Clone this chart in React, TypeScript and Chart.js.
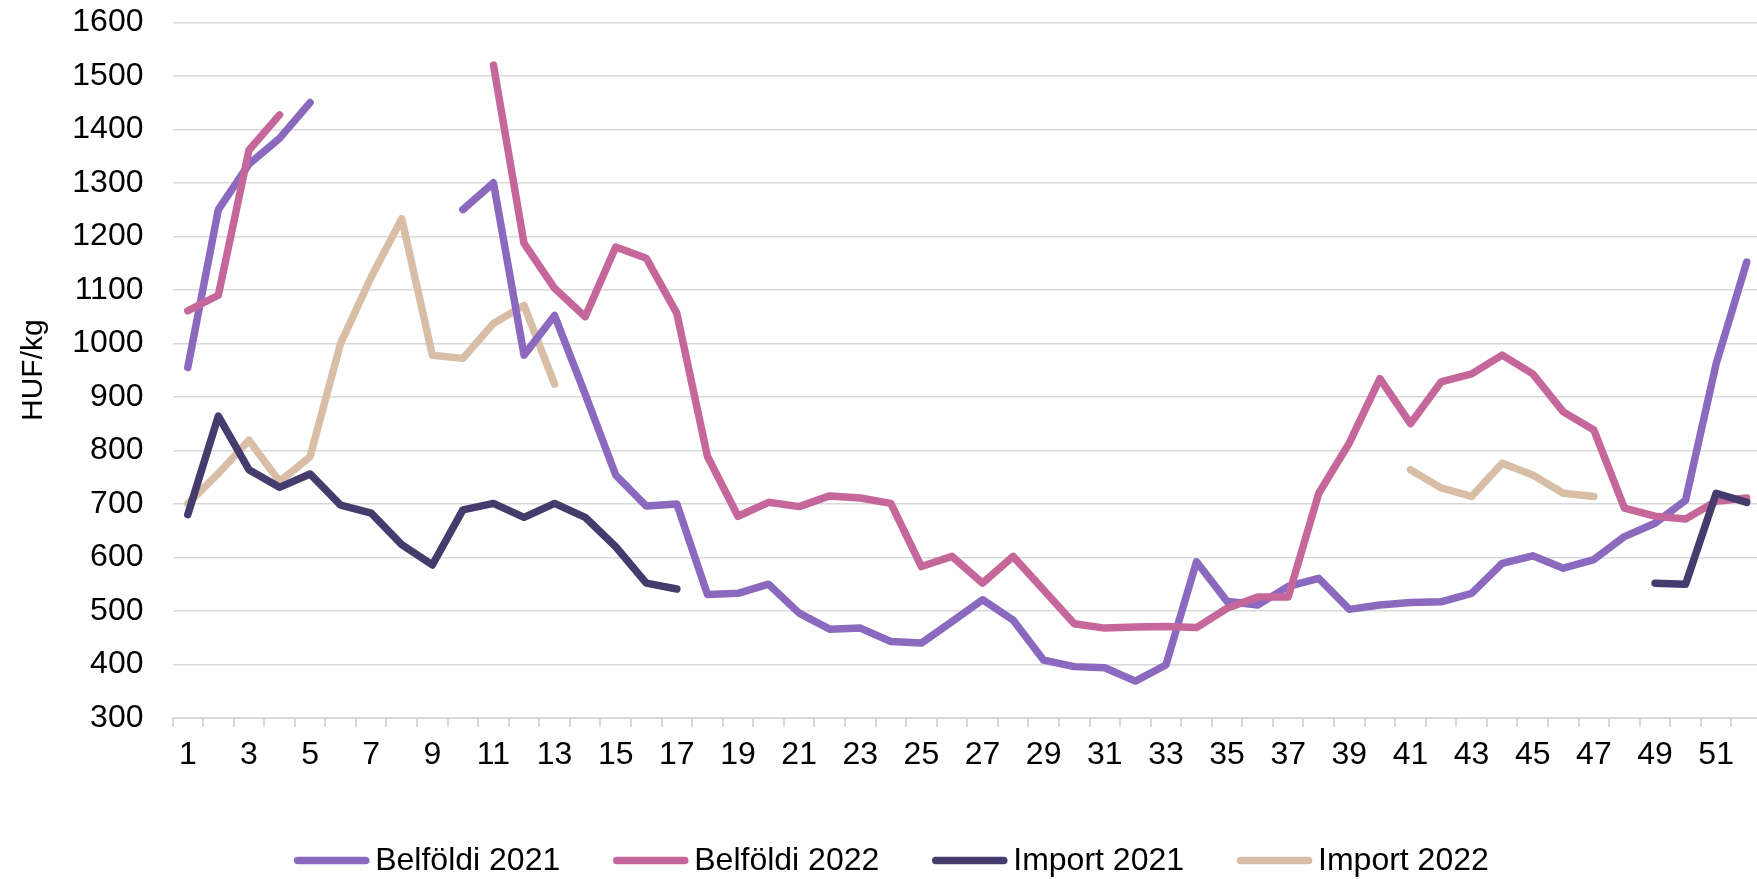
import React, { useEffect, useRef } from "react";
import { Chart, registerables } from "chart.js";

Chart.register(...registerables);

const FONT = "'Liberation Sans', Arial, sans-serif";

const weeks = [
  "1", "2", "3", "4", "5", "6", "7", "8", "9", "10",
  "11", "12", "13", "14", "15", "16", "17", "18", "19", "20",
  "21", "22", "23", "24", "25", "26", "27", "28", "29", "30",
  "31", "32", "33", "34", "35", "36", "37", "38", "39", "40",
  "41", "42", "43", "44", "45", "46", "47", "48", "49", "50",
  "51", "52",
];

const belfoldi2021 = [
  955, 1250, 1335, 1383, 1450, null, null, null, null, 1250,
  1300, 978, 1052, 905, 754, 696, 700, 531, 533, 550,
  496, 466, 468, 443, 440, 480, 521, 483, 408, 396,
  394, 369, 399, 592, 518, 511, 546, 561, 503, 511,
  516, 517, 533, 589, 603, 580, 596, 639, 664, 707,
  962, 1152,
];

const belfoldi2022 = [
  1061, 1090, 1361, 1427, null, null, null, null, null, null,
  1520, 1187, 1103, 1050, 1180, 1159, 1056, 789, 677, 703,
  695, 715, 711, 701, 583, 602, 552, 602, 539, 476,
  468, 470, 471, 469, 505, 526, 526, 720, 814, 934,
  850, 928, 943, 978, 943, 872, 838, 692, 677, 672,
  705, 711,
];

const import2021 = [
  680, 864, 764, 731, 756, 698, 683, 624, 586, 689,
  701, 675, 701, 675, 620, 552, 541, null, null, null,
  null, null, null, null, null, null, null, null, null, null,
  null, null, null, null, null, null, null, null, null, null,
  null, null, null, null, null, null, null, null, 552, 550,
  720, 703,
];

const import2022 = [
  700, 757, 819, 742, 788, 1000, 1124, 1233, 978, 972,
  1037, 1071, 924, null, null, null, null, null, null, null,
  null, null, null, null, null, null, null, null, null, null,
  null, null, null, null, null, null, null, null, null, null,
  764, 730, 714, 776, 754, 720, 714, null, null, null,
  null, null,
];

const seriesLabels = ["Belföldi 2021", "Belföldi 2022", "Import 2021", "Import 2022"];
const seriesColors = ["#8B69BF", "#C6679B", "#453B6D", "#D9BEA7"];
const drawOrder = [2, 1, 0, 3];

const legendPlugin = {
  id: "customLegend",
  afterDraw(chart: any) {
    const ctx = chart.ctx as CanvasRenderingContext2D;
    ctx.save();
    ctx.font = `32px ${FONT}`;
    const items = chart.data.datasets.map((ds: any) => ({
      label: ds.label as string,
      color: ds.borderColor as string,
      w: ctx.measureText(ds.label).width,
    }));
    const box = 75;
    const gap = 6;
    const itemGap = 53;
    const total =
      items.reduce((s: number, it: any) => s + box + gap + it.w, 0) +
      itemGap * (items.length - 1);
    const centerX = 891.5;
    const y = 861;
    let x = centerX - total / 2;
    for (const it of items) {
      ctx.strokeStyle = it.color;
      ctx.lineWidth = 7.5;
      ctx.lineCap = "round";
      ctx.beginPath();
      ctx.moveTo(x + 3.5, y - 0.5);
      ctx.lineTo(x + box - 3.5, y - 0.5);
      ctx.stroke();
      ctx.fillStyle = "#000000";
      ctx.textAlign = "left";
      ctx.textBaseline = "middle";
      ctx.fillText(it.label, x + box + gap, y);
      x += box + gap + it.w + itemGap;
    }
    ctx.restore();
  },
};

export default function App() {
  const canvasRef = useRef<HTMLCanvasElement | null>(null);

  useEffect(() => {
    if (!canvasRef.current) return;
    const series = [belfoldi2021, belfoldi2022, import2021, import2022];
    const chart = new Chart(canvasRef.current, {
      type: "line",
      data: {
        labels: weeks,
        datasets: series.map((data, i) => ({
          label: seriesLabels[i],
          data,
          borderColor: seriesColors[i],
          backgroundColor: seriesColors[i],
          borderWidth: 7.5,
          pointRadius: 0,
          pointHoverRadius: 0,
          tension: 0,
          spanGaps: false,
          borderCapStyle: "round" as const,
          borderJoinStyle: "round" as const,
          order: drawOrder[i],
        })),
      },
      options: {
        animation: false,
        responsive: true,
        maintainAspectRatio: false,
        layout: { padding: { top: 22.3, right: 0, bottom: 0, left: 0 } },
        plugins: {
          legend: { display: false },
          tooltip: { enabled: false },
        },
        scales: {
          x: {
            type: "category",
            offset: true,
            grid: {
              display: true,
              drawOnChartArea: false,
              drawTicks: true,
              tickLength: 9,
              offset: true,
              color: "#d9d9d9",
              lineWidth: 2,
            },
            border: { display: true, color: "#d9d9d9", width: 2 },
            ticks: {
              autoSkip: false,
              maxRotation: 0,
              minRotation: 0,
              padding: 9,
              color: "#000000",
              font: { family: FONT, size: 32 },
              callback: (_v: any, i: number) => (i % 2 === 0 ? weeks[i] : ""),
            },
            afterFit: (s: any) => {
              s.height = 161;
              s.paddingLeft = 0;
              s.paddingRight = 0;
            },
          },
          y: {
            min: 300,
            max: 1600,
            ticks: {
              stepSize: 100,
              padding: 29,
              color: "#000000",
              font: { family: FONT, size: 32 },
              callback: (v: any) => String(v),
            },
            grid: { drawTicks: false, color: "#d9d9d9", lineWidth: 1.5 },
            border: { display: false },
            title: {
              display: true,
              text: "HUF/kg",
              color: "#000000",
              font: { family: FONT, size: 30 },
              padding: { top: 16, bottom: 0 },
            },
            afterFit: (s: any) => {
              s.width = 172.5;
              s.paddingTop = 0;
              s.paddingBottom = 0;
            },
          },
        },
      },
      plugins: [legendPlugin],
    });
    return () => chart.destroy();
  }, []);

  return (
    <div
      style={{
        position: "fixed",
        left: 0,
        top: 0,
        width: "1762px",
        height: "879px",
        background: "#ffffff",
      }}
    >
      <canvas ref={canvasRef} />
    </div>
  );
}
